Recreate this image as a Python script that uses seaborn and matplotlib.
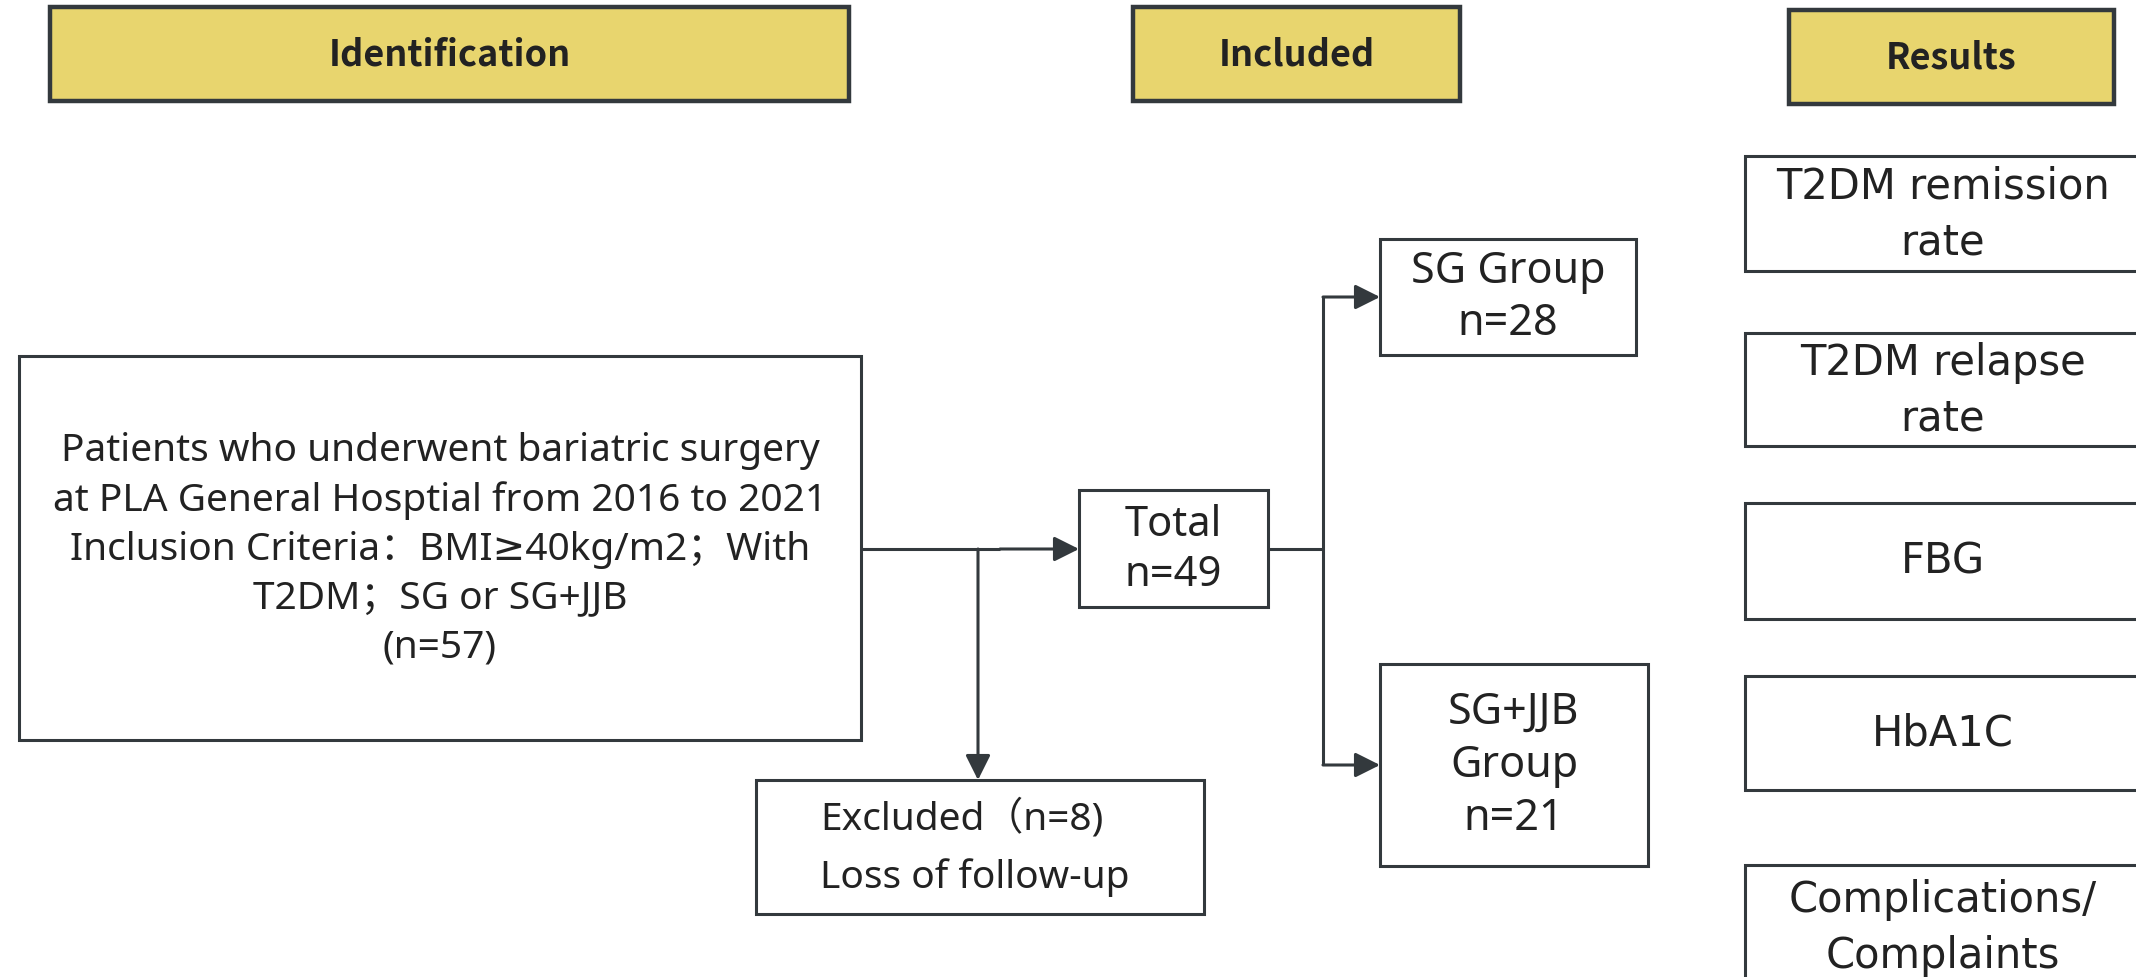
import matplotlib
matplotlib.use("Agg")
import matplotlib.pyplot as plt
from matplotlib.patches import Rectangle
import seaborn as sns

# texts of the flow chart
headers = ["Identification", "Included", "Results"]
source_text = ("Patients who underwent bariatric surgery\n"
               "at PLA General Hosptial from 2016 to 2021\n"
               "Inclusion Criteria：BMI≥40kg/m2；With\n"
               "T2DM；SG or SG+JJB\n"
               "(n=57)")
total_text = "Total\nn=49"
excluded_text = "Excluded（n=8)\nLoss of follow-up"
groups = ["SG Group\nn=28", "SG+JJB\nGroup\nn=21"]
results = ["T2DM remission\nrate", "T2DM relapse\nrate", "FBG", "HbA1C",
           "Complications/\nComplaints"]

sns.set_style("white")
FONTS = ['Noto Sans', 'DejaVu Sans', 'Noto Sans CJK SC']
WIDE = ['DejaVu Sans', 'Noto Sans CJK SC']
plt.rcParams['font.family'] = FONTS

EDGE = "#33393d"
TXT = "#222222"
YELLOW = "#e8d56e"

fig = plt.figure(figsize=(21.36, 9.78), dpi=100)
ax = fig.add_axes([0, 0, 1, 1])
ax.set_xlim(0, 2136)
ax.set_ylim(978, 0)
ax.axis("off")


def box(x0, y0, x1, y1, text, size=27, fill="white", lw=2.2, weight="normal",
        ha="center", tx=None, ls=1.15, family=FONTS):
    ax.add_patch(Rectangle((x0, y0), x1 - x0, y1 - y0, facecolor=fill,
                           edgecolor=EDGE, lw=lw, zorder=2, clip_on=True))
    if tx is None:
        tx = (x0 + x1) / 2
    ax.text(tx, (y0 + y1) / 2, text, ha=ha, va="center", fontsize=size,
            color=TXT, weight=weight, linespacing=ls, zorder=3, family=family)


def line(xs, ys):
    ax.plot(xs, ys, color=EDGE, lw=2.2, solid_capstyle="butt", zorder=1)


def arrow(x0, y0, x1, y1):
    ax.annotate("", xy=(x1, y1), xytext=(x0, y0),
                arrowprops=dict(arrowstyle="-|>", color=EDGE, lw=2.2,
                                mutation_scale=38, shrinkA=0, shrinkB=0),
                zorder=1)


# header boxes
hdr_font = ['Noto Sans CJK SC', 'DejaVu Sans']
box(50, 8, 849, 102, headers[0], size=26, fill=YELLOW, lw=3.2, weight="bold", family=hdr_font)
box(1133, 8, 1460, 102, headers[1], size=26, fill=YELLOW, lw=3.2, weight="bold", family=hdr_font)
box(1789, 11, 2114, 105, headers[2], size=26, fill=YELLOW, lw=3.2, weight="bold", family=hdr_font)

# main boxes
box(19, 357, 861, 741, source_text, size=28, ls=1.37)
box(1079, 491, 1268, 608, total_text, size=30, ls=1.25)
box(756, 781, 1204, 915, excluded_text, size=28, ha="left", tx=820, ls=1.65)
box(1380, 240, 1636, 356, groups[0], size=31, ls=1.25)
box(1380, 665, 1648, 867, groups[1], size=31, ls=1.28)

# result boxes
res_y = [(157, 272), (334, 447), (504, 620), (677, 791), (866, 990)]
for (y0, y1), t in zip(res_y, results):
    box(1745, y0, 2140, y1, t, size=30, ls=1.4, family=WIDE)

# connectors
line([861, 1000], [550, 550])
arrow(1000, 550, 1079, 550)
arrow(978, 550, 978, 781)
line([1268, 1323], [550, 550])
line([1323, 1323], [298, 766])
arrow(1323, 298, 1380, 298)
arrow(1323, 766, 1380, 766)

fig.savefig("out.png", dpi=100, facecolor="white")
